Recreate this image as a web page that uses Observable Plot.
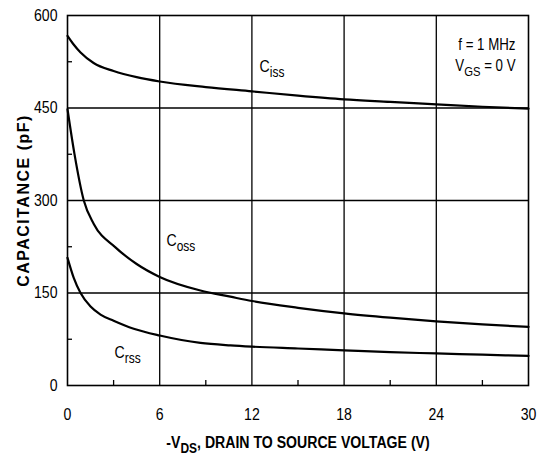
<!DOCTYPE html>
<html><head><meta charset="utf-8">
<script src="https://cdn.jsdelivr.net/npm/d3@7"></script>
<script src="https://cdn.jsdelivr.net/npm/@observablehq/plot@0.6"></script>
<style>body{margin:0;background:#fff}</style>
</head><body><div id="chart"></div>
<script>
// Tick values
const xTicks = [0, 6, 12, 18, 24, 30];
const yTicks = [0, 150, 300, 450, 600];
const xMinor = [3, 9, 15, 21, 27];
const yMinor = [75, 225, 375, 525];

// Series: drain-source voltage (V) and capacitance (pF)
const cissV = [0, 0.4, 0.85, 1.7, 3, 4.5, 6, 9, 12, 15, 18, 21, 24, 27, 30];
const cissC = [567, 553, 540, 523, 510, 500, 493, 484, 477, 470, 464, 460, 456, 452, 449];
const cossV = [0, 0.45, 1.06, 1.71, 3.12, 4.5, 6, 8.65, 10.6, 12, 15, 18, 21, 24, 27, 30];
const cossC = [448, 376, 300, 262, 224, 197, 176, 154, 144, 137, 126, 117, 110, 104, 99, 95];
const crssV = [0, 0.4, 0.85, 1.5, 2.15, 3, 4.31, 6, 8.65, 10.6, 12, 15, 18, 21, 24, 27, 30];
const crssC = [207, 175, 150, 128, 115, 105, 92, 81, 69, 65, 63, 60, 57, 54, 52, 50, 48];

// Curve labels
const seriesNames = ["C_{iss}", "C_{oss}", "C_{rss}"];
const labelV = [12.5, 6.44, 3.06];
const labelC = [517, 235, 53];

// Conditions
const condText = ["f = 1 MHz", "V_{GS} = 0 V"];
const condV = [29.15, 29.15];
const condC = [553, 519];

const xTitle = "-V_{DS}, DRAIN TO SOURCE VOLTAGE (V)";
const yTitle = "CAPACITANCE (pF)";

const FONT = "'Liberation Sans',Arial,sans-serif";

const toRows = (vs, cs) => vs.map((v, i) => ({v, c: cs[i]}));
const ciss = toRows(cissV, cissC);
const coss = toRows(cossV, cossC);
const crss = toRows(crssV, crssC);
const labels = seriesNames.map((t, i) => ({t, v: labelV[i], c: labelC[i]}));
const conds = condText.map((t, i) => ({t, v: condV[i], c: condC[i]}));

const lineOpts = {x: "v", y: "c", curve: "monotone-x", stroke: "#000", strokeWidth: 2.2};

const chart = Plot.plot({
  width: 543, height: 459,
  marginLeft: 67, marginRight: 15, marginTop: 15, marginBottom: 74,
  x: {domain: [0, 30]},
  y: {domain: [0, 600]},
  style: {fontFamily: FONT, fontSize: "17px", color: "#000", background: "#fff"},
  marks: [
    Plot.gridX(xTicks.slice(1, -1), {stroke: "#000", strokeOpacity: 1, strokeWidth: 1.3}),
    Plot.gridY(yTicks.slice(1, -1), {stroke: "#000", strokeOpacity: 1, strokeWidth: 1.3}),
    Plot.ruleX(xMinor, {insetTop: 365, stroke: "#000", strokeWidth: 1.3}),
    Plot.ruleY(yMinor, {insetRight: 456, stroke: "#000", strokeWidth: 1.3}),
    Plot.axisX(xTicks, {tickSize: 0, tickPadding: 22, label: null, fontSize: 17}),
    Plot.axisY(yTicks, {tickSize: 0, tickPadding: 10, label: null, fontSize: 17}),
    Plot.frame({stroke: "#000", strokeWidth: 1.6}),
    Plot.line(ciss, lineOpts),
    Plot.line(coss, lineOpts),
    Plot.line(crss, lineOpts),
    Plot.text(labels, {x: "v", y: "c", text: "t", textAnchor: "start", fontSize: 17}),
    Plot.text(conds, {x: "v", y: "c", text: "t", textAnchor: "end", fontSize: 16}),
    Plot.text([xTitle], {frameAnchor: "bottom", dy: 57, lineAnchor: "middle", textAnchor: "middle", text: d => d, fontSize: 17, fontWeight: "bold"}),
    Plot.text([yTitle], {frameAnchor: "left", dx: -44, rotate: -90, textAnchor: "middle", lineAnchor: "middle", text: d => d, fontSize: 16, fontWeight: "bold"})
  ]
});

// Convert _{...} markers into subscript tspans
d3.select(chart).selectAll("text").each(function() {
  const el = d3.select(this);
  const s = this.textContent;
  if (s === yTitle) { el.style("letter-spacing", "1.5px").attr("data-wide", 1); }
  if (!s.includes("_{")) return;
  const parts = s.split(/_\{([^}]*)\}/);
  el.text(null);
  parts.forEach((p, i) => {
    if (!p) return;
    if (i % 2 === 1) {
      el.append("tspan").attr("dy", 5).attr("font-size", "0.85em").text(p);
    } else {
      const t = el.append("tspan").text(p);
      if (i > 0) t.attr("dy", -5);
    }
  });
});

document.getElementById("chart").appendChild(chart);

// Narrow the sans face horizontally (reference uses a condensed typeface)
const SX = 0.83;
d3.select(chart).selectAll("text").each(function() {
  if (this.getAttribute("data-wide")) return;
  const b = this.getBBox();
  const anchor = getComputedStyle(this).textAnchor;
  const ax = anchor === "end" ? b.x + b.width : anchor === "middle" ? b.x + b.width / 2 : b.x;
  const prev = this.getAttribute("transform") || "";
  this.setAttribute("transform", `${prev} translate(${ax},0) scale(${SX},1) translate(${-ax},0)`);
});
</script>
</body></html>
